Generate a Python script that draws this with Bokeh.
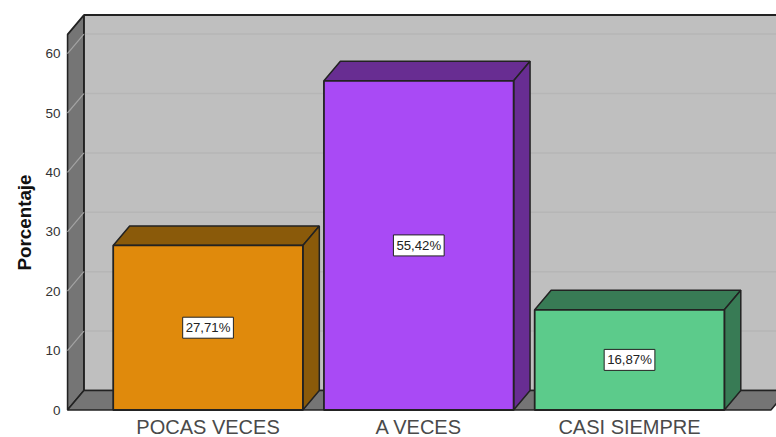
from bokeh.plotting import figure
from bokeh.models import Range1d, FixedTicker, ColumnDataSource, Title
from bokeh.core.properties import value
from bokeh.embed import file_html
from bokeh.resources import INLINE

categories = ["POCAS VECES", "A VECES", "CASI SIEMPRE"]
percent = [27.71, 55.42, 16.87]
labels = ["27,71%", "55,42%", "16,87%"]
y_ticks = [0, 10, 20, 30, 40, 50, 60]
y_title = "Porcentaje"
front_colors = ["#e08a0c", "#a94af5", "#5ccb8b"]
dark_colors = ["#8a5a0a", "#682d92", "#387b55"]

BAR_W = 0.9
DX, DY = 0.078, 3.28      # 3D depth in axis units
WALL_TOP = 63.2
X0, X1 = -0.667, 2.671    # front floor edges
OUT = "#222222"
FONT = "Liberation Sans"

positions = list(range(len(categories)))

p = figure(width=776, height=437, frame_width=710, frame_height=412,
           output_backend="svg", toolbar_location=None,
           x_range=Range1d(-0.6716, 2.6974), y_range=Range1d(-0.42, 68.94),
           min_border_left=66, min_border_right=0, min_border_top=0, min_border_bottom=25,
           outline_line_color=None, background_fill_color="white", border_fill_color="white")
p.grid.visible = False

# back wall, side wall, floor
p.patch([X0 + DX, X1 + DX, X1 + DX, X0 + DX], [DY, DY, WALL_TOP + DY, WALL_TOP + DY],
        fill_color="#bfbfbf", line_color=OUT, line_width=1.5)
for t in y_ticks[1:]:
    p.line([X0 + DX, X1 + DX], [t + DY, t + DY], line_color="#b6b6b6", line_width=1.5)
p.line([X0 + DX, X1 + DX], [WALL_TOP + DY, WALL_TOP + DY], line_color=OUT, line_width=2)
p.patch([X0, X0 + DX, X0 + DX, X0], [0, DY, WALL_TOP + DY, WALL_TOP],
        fill_color="#757575", line_color=OUT, line_width=1.8)
for t in y_ticks[1:]:
    p.line([X0, X0 + DX], [t, t + DY], line_color="#a3a3a3", line_width=1.2)
p.patch([X0, X1, X1 + DX, X0 + DX], [0, 0, DY, DY],
        fill_color="#757575", line_color=OUT, line_width=1.5)

# bars
for c, v, fc, dc in zip(positions, percent, front_colors, dark_colors):
    l, r = c - BAR_W / 2, c + BAR_W / 2
    p.patch([l, r, r + DX, l + DX], [v, v, v + DY, v + DY], fill_color=dc, line_color=OUT, line_width=1.5)
    p.patch([r, r + DX, r + DX, r], [0, DY, v + DY, v], fill_color=dc, line_color=OUT, line_width=1.5)
    p.quad(left=l, right=r, bottom=0, top=v, fill_color=fc, line_color=OUT, line_width=1.8)

src = ColumnDataSource(dict(x=positions, y=[v / 2 for v in percent], t=labels))
p.text(x="x", y="y", text="t", source=src, text_align="center", text_baseline="middle",
       text_font=value(FONT), text_font_size="13.2px", text_color="#222222",
       background_fill_color="white", border_line_color="#222222", border_line_width=1,
       padding=3)

xa = p.xaxis[0]
xa.ticker = FixedTicker(ticks=positions)
xa.major_label_overrides = {i: c for i, c in zip(positions, categories)}
xa.major_label_text_font = FONT
xa.major_label_text_font_size = "20px"
xa.major_label_text_color = "#4a4a4a"
xa.axis_line_color = None
xa.major_tick_line_color = None
xa.minor_tick_line_color = None
xa.major_tick_out = 0
xa.major_tick_in = 0
xa.major_label_standoff = 3

ya = p.yaxis[0]
ya.ticker = FixedTicker(ticks=y_ticks)
ya.major_label_text_font = FONT
ya.major_label_text_font_size = "13.5px"
ya.major_label_text_color = "#333333"
ya.axis_line_color = None
ya.major_tick_line_color = None
ya.minor_tick_line_color = None
ya.major_tick_out = 0
ya.major_tick_in = 0
ya.major_label_standoff = 6

p.add_layout(Title(text=y_title, align="left", offset=142, standoff=11, vertical_align="top",
                   text_font=FONT, text_font_style="bold", text_font_size="18.8px",
                   text_color="#111111"), "left")

open("out.html", "w").write(file_html(p, INLINE))
